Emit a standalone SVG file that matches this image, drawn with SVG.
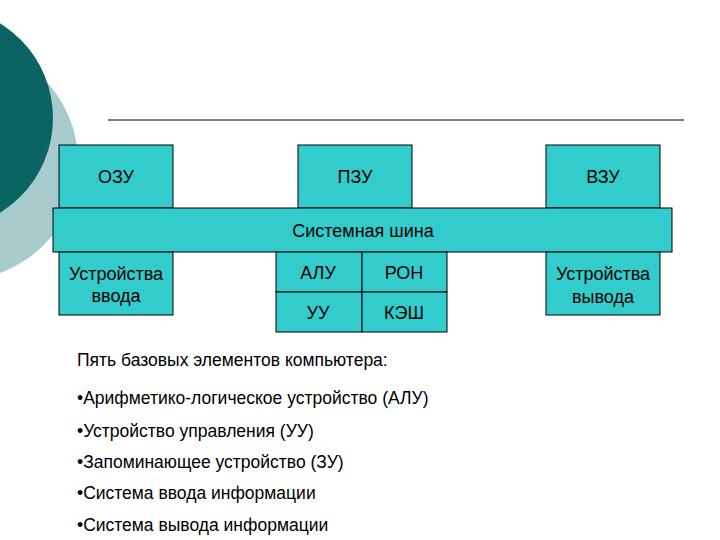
<svg xmlns="http://www.w3.org/2000/svg" width="720" height="540" viewBox="0 0 720 540">
<style>
.b{fill:#33cccc;stroke:#000;stroke-width:1}
.t{font-family:"Liberation Sans",Arial,sans-serif;font-size:18px;fill:#000;text-anchor:middle}
.l{font-family:"Liberation Sans",Arial,sans-serif;font-size:17.5px;fill:#000}
</style>
<rect width="720" height="540" fill="#fff"/>
<circle cx="-40" cy="162" r="118" fill="#a8cccc"/>
<circle cx="-58" cy="118" r="111" fill="#0b6464"/>
<line x1="108" y1="120" x2="684" y2="120" stroke="#000" stroke-width="1"/>
<g id="ozu"><rect class="b" x="59" y="145" width="114" height="63"/><text class="t" x="116" y="183">ОЗУ</text></g>
<g id="pzu"><rect class="b" x="298" y="145" width="114" height="63"/><text class="t" x="355" y="183">ПЗУ</text></g>
<g id="vzu"><rect class="b" x="546" y="145" width="114" height="63"/><text class="t" x="603" y="183">ВЗУ</text></g>
<g id="bus"><rect class="b" x="53" y="208" width="619" height="44"/><text class="t" x="363" y="237">Системная шина</text></g>
<g id="in"><rect class="b" x="59" y="252" width="114" height="63"/><text class="t" x="116" y="280">Устройства</text><text class="t" x="116" y="302">ввода</text></g>
<g id="out"><rect class="b" x="546" y="252" width="114" height="63"/><text class="t" x="603" y="280">Устройства</text><text class="t" x="603" y="303">вывода</text></g>
<g id="alu"><rect class="b" x="276" y="252" width="86" height="40"/><text class="t" x="318" y="279">АЛУ</text></g>
<g id="ron"><rect class="b" x="362" y="252" width="85" height="40"/><text class="t" x="404" y="279">РОН</text></g>
<g id="uu"><rect class="b" x="276" y="292" width="86" height="40"/><text class="t" x="318" y="319">УУ</text></g>
<g id="kesh"><rect class="b" x="362" y="292" width="85" height="40"/><text class="t" x="404" y="319">КЭШ</text></g>
<g id="connectors"/>
<text class="l" x="77" y="366">Пять базовых элементов компьютера:</text>
<text class="l" x="77" y="404">•Арифметико-логическое устройство (АЛУ)</text>
<text class="l" x="77" y="437">•Устройство управления (УУ)</text>
<text class="l" x="77" y="468">•Запоминающее устройство (ЗУ)</text>
<text class="l" x="77" y="499">•Система ввода информации</text>
<text class="l" x="77" y="531">•Система вывода информации</text>
</svg>
